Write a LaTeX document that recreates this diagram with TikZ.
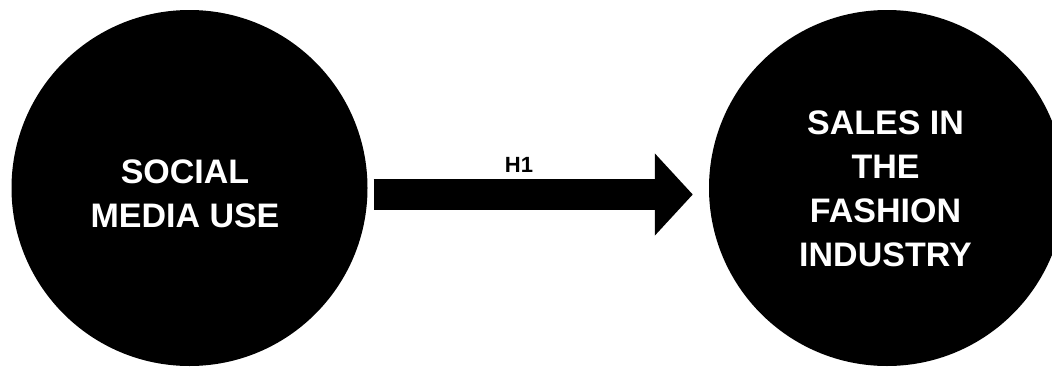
\documentclass[tikz,border=0pt]{standalone}
\usepackage{fontspec}
\setmainfont{Liberation Sans}
\usetikzlibrary{arrows.meta}
\begin{document}
\begin{tikzpicture}[x=1pt,y=-1pt,
  bigcirc/.style={circle,fill=black,draw=none,minimum size=356pt,inner sep=0pt},
  circtext/.style={text=white,font=\fontsize{34}{44}\selectfont\bfseries,align=center,inner sep=0pt},
  fatarrow/.style={line width=31pt,-{Triangle[width=80pt,length=38pt]}}]
\useasboundingbox[fill=white] (0,0) rectangle (1052,367);
\node[bigcirc] (a) at (189.5,188) {};
\node[bigcirc] (b) at (887,188) {};
\node[circtext] (ta) at (185,194) {SOCIAL\\MEDIA USE};
\node[circtext] (tb) at (885.5,189) {SALES IN\\THE\\FASHION\\INDUSTRY};
\draw[fatarrow] ([shift={(6,6.5)}]a.east) -- ([shift={(-16,6.5)}]b.west);
\node[font=\fontsize{22}{26}\selectfont\bfseries,anchor=base] (h1) at (519,172.5) {H1};
\end{tikzpicture}
\end{document}
